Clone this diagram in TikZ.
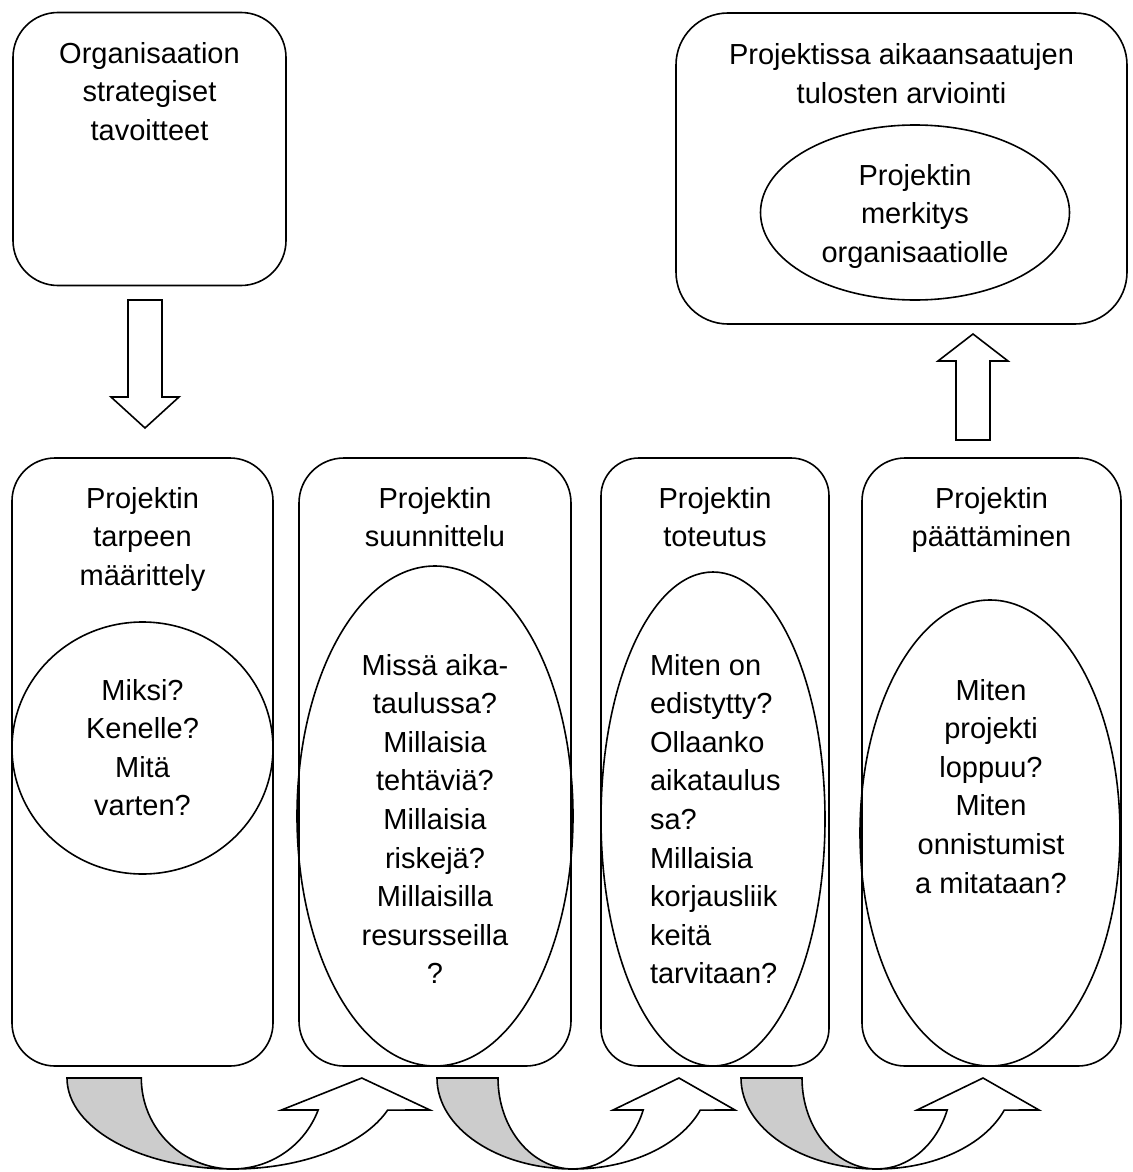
\documentclass[tikz,border=0pt]{standalone}
\usepackage{fontspec}
\setmainfont{Liberation Sans}
\usetikzlibrary{shapes.geometric}
\definecolor{bandgray}{RGB}{204,204,204}

% curved U-turn block arrow: shaded back half, white front half with head
\newcommand\uturnarrow[2]{%
  \begin{scope}[shift={(#1,1078)}, xscale=#2]
    \path[band, fill=bandgray]
      (0,0) arc[start angle=180, end angle=90, x radius=136, y radius=91]
            arc[start angle=90, end angle=180, x radius=75, y radius=91] -- cycle;
    \path[band, fill=white]
      (136,91) arc[start angle=90, end angle=20.63, x radius=136, y radius=91]
      -- (298,32) -- (242,0) -- (176,32) -- (206.19,32)
      arc[start angle=20.63, end angle=90, x radius=75, y radius=91] -- cycle;
  \end{scope}}

\begin{document}
\begin{tikzpicture}[x=1pt, y=-1pt,
  every node/.style={inner sep=0pt, outer sep=0pt},
  frame/.style={draw, line width=1.6pt, rounded corners=#1},
  oval/.style={draw, ellipse, line width=1.6pt},
  lbl/.style={font=\fontsize{29}{38.6}\selectfont, align=center, anchor=base},
  lbll/.style={font=\fontsize{29}{38.6}\selectfont, align=left, anchor=base west},
  blockarrow/.style={draw, fill=white, line width=1.6pt, line join=miter},
  band/.style={draw, line width=1.6pt, line join=miter},
]
\useasboundingbox (0,0) rectangle (1132,1172);

% top row (text nodes are placed by the baseline of their last line)
\node[frame=45pt, minimum width=273pt, minimum height=273pt] (goals) at (149.5,149) {};
\node[lbl] (goalsT) at (149.5,140.2) {Organisaation\\strategiset\\tavoitteet};

\node[frame=52pt, minimum width=451pt, minimum height=311pt] (eval) at (901.5,168.5) {};
\node[lbl] (evalT) at (901.5,103.6) {Projektissa aikaansaatujen\\tulosten arviointi};
\node[oval, minimum width=309pt, minimum height=175pt] (mean) at (915,212.5) {};
\node[lbl] (meanT) at (915,262.2) {Projektin\\merkitys\\organisaatiolle};

% block arrows between the rows
\draw[blockarrow] (128,300) -- (162,300) -- (162,397) -- (179,397) -- (145,428)
  -- (111,397) -- (128,397) -- cycle;
\draw[blockarrow] (956,440) -- (990,440) -- (990,361) -- (1008,361) -- (973,334)
  -- (938,361) -- (956,361) -- cycle;

% project phases
\node[frame=43pt, minimum width=261pt, minimum height=608pt] (need) at (142.5,762) {};
\node[lbl] (needT) at (142.5,585.2) {Projektin\\tarpeen\\määrittely};
\node[oval, minimum width=261pt, minimum height=252pt] (needE) at (142.5,748) {};
\node[lbl] (needQ) at (142.5,815.8) {Miksi?\\Kenelle?\\Mitä\\varten?};

\node[frame=45pt, minimum width=272pt, minimum height=608pt] (plan) at (435,762) {};
\node[lbl] (planT) at (435,546.6) {Projektin\\suunnittelu};
\node[oval, minimum width=276pt, minimum height=500pt] (planE) at (435,816) {};
\node[lbl] (planQ) at (435,983.8) {Missä aika-\\taulussa?\\Millaisia\\tehtäviä?\\Millaisia\\riskejä?\\Millaisilla\\resursseilla\\?};

\node[frame=38pt, minimum width=228pt, minimum height=608pt] (exec) at (715,762) {};
\node[lbl] (execT) at (715,546.6) {Projektin\\toteutus};
\node[oval, minimum width=224pt, minimum height=494pt] (execE) at (713,819) {};
\node[lbll] (execQ) at (650,983.8) {Miten on\\edistytty?\\Ollaanko\\aikataulus\\sa?\\Millaisia\\korjausliik\\keitä\\tarvitaan?};

\node[frame=43pt, minimum width=259pt, minimum height=608pt] (close) at (991.5,762) {};
\node[lbl] (closeT) at (991.5,546.6) {Projektin\\päättäminen};
\node[oval, minimum width=260pt, minimum height=466pt] (closeE) at (990,833) {};
\node[lbl] (closeQ) at (991,893) {Miten\\projekti\\loppuu?\\Miten\\onnistumist\\a mitataan?};

% transitions between phases
\uturnarrow{67}{1.218}
\uturnarrow{437}{1}
\uturnarrow{741}{1}
\end{tikzpicture}
\end{document}
